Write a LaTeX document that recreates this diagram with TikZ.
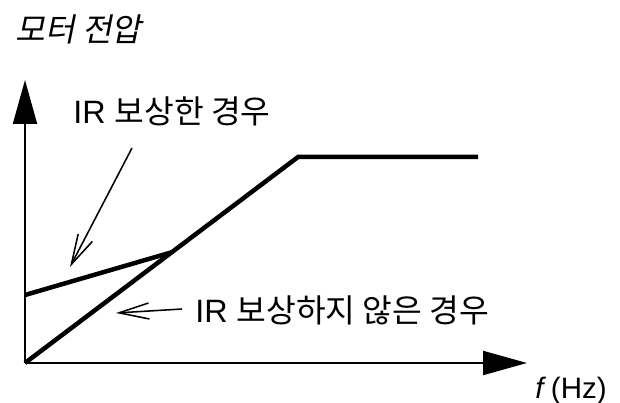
\documentclass[tikz,border=0pt]{standalone}
\usepackage{fontspec}
\setmainfont{Liberation Sans}
\newfontfamily\krfont{Noto Sans CJK KR}
\newfontfamily\krslant[FakeSlant=0.2]{Noto Sans CJK KR}
\usetikzlibrary{arrows.meta}

\begin{document}
\begin{tikzpicture}
		\tikzstyle{AxisSty}=[line width=1.4pt,-{Triangle[length=1.1cm,width=0.6cm]}]
		\tikzstyle{CurveSty}=[line width=3.2pt,line join=miter]
		\tikzstyle{PointSty}=[line width=1.1pt,-{Straight Barb[length=0.75cm,width=0.4cm]}]
		\tikzstyle{lbl}=[inner sep=0pt,anchor=west,font=\fontsize{23}{27}\selectfont]

\useasboundingbox (-0.625,-1.0) rectangle (14.875,9.075);

% Axes
\coordinate (O) at (0,0);
\coordinate (ytop) at (0,7.075);
\coordinate (xend) at (12.55,0);

	\draw[AxisSty] (O) -- (ytop);
	\draw[AxisSty] (O) -- (xend);

	\node [lbl] (vlabel) at (-0.25,8.35) {\krslant 모터 전압};
	\node [lbl,font=\fontsize{21}{25}\selectfont] (flabel) at (12.75,-0.7) {\textit{f}\,(Hz)};

% Curves
\coordinate (knee) at (6.825,5.15);
\coordinate (flat) at (11.325,5.15);
\coordinate (irstart) at (0,1.7);
\coordinate (join) at (3.675,2.77);

	\draw[CurveSty] (O) -- (knee) -- (flat);
	\draw[CurveSty] (irstart) -- (join);

% Labels
	\node [lbl] (withir) at (1.2,6.3) {IR \krfont 보상한 경우};
	\node [lbl] (noir) at (4.25,1.325) {IR \krfont 보상하지 않은 경우};

\coordinate (p1a) at (2.675,5.375);
\coordinate (p1b) at (1.125,2.4);
\coordinate (p2a) at (3.925,1.35);
\coordinate (p2b) at (2.275,1.25);

	\draw[PointSty] (p1a) -- (p1b);
	\draw[PointSty] (p2a) -- (p2b);

\end{tikzpicture}
\end{document}
